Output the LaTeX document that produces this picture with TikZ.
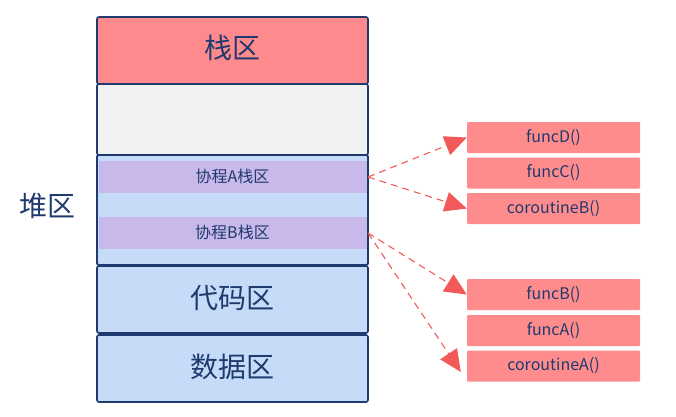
\documentclass[tikz,border=0pt]{standalone}
\usepackage{fontspec}
\setmainfont{Noto Sans CJK SC}
\usetikzlibrary{arrows.meta}
\definecolor{navy}{HTML}{1F3A6E}
\definecolor{stackred}{HTML}{FF8A8E}
\definecolor{graybg}{HTML}{F2F2F2}
\definecolor{heapblue}{HTML}{C5DBF7}
\definecolor{purp}{HTML}{C9B8EA}
\definecolor{funcred}{HTML}{FF8C8C}
\definecolor{arrred}{HTML}{F25A5A}
\tikzset{
  memblock/.style={draw=navy, line width=1.6pt, rounded corners=2pt},
  band/.style={fill=purp, draw=none},
  frame/.style={fill=funcred, draw=none, rounded corners=1pt},
  bigtxt/.style={text=navy, font=\fontsize{28}{31}\selectfont},
  smalltxt/.style={text=navy, font=\fontsize{16}{18}\selectfont},
  functxt/.style={text=navy, font=\fontsize{16}{18}\selectfont},
  callarrow/.style={draw=arrred, line width=1.1pt, dashed, dash pattern=on 7pt off 5pt,
     -{Triangle[length=22pt,width=20pt,fill=arrred]}}
}
\begin{document}
\begin{tikzpicture}[x=1pt,y=-1pt]
\useasboundingbox (0,0) rectangle (676,416);
% column
\path[memblock, fill=stackred] (97,17) rectangle (368,84);
\path[memblock, fill=graybg] (97,84) rectangle (368,155);
\path[memblock, fill=heapblue] (97,155) rectangle (368,265);
\fill[band] (98.5,161) rectangle (366.5,193);
\fill[band] (98.5,217) rectangle (366.5,249);
\path[memblock, draw=navy] (97,155) rectangle (368,265);
\path[memblock, fill=heapblue] (97,266) rectangle (368,333);
\path[memblock, fill=heapblue] (97,335) rectangle (368,402);
\node[bigtxt] (stack) at (232.5,48) {栈区};
\node[smalltxt] (coA) at (232.5,176) {协程A栈区};
\node[smalltxt] (coB) at (232.5,232) {协程B栈区};
\node[bigtxt] (code) at (232.5,298) {代码区};
\node[bigtxt] (data) at (232.5,367) {数据区};
\node[bigtxt] (heap) at (47,206) {堆区};
\coordinate (aout) at (368,177);
\coordinate (bout) at (368,233);
% frames
\node[frame, minimum width=173pt, minimum height=31pt, functxt] (fD) at (553.5,137.5) {funcD()};
\node[frame, minimum width=173pt, minimum height=31pt, functxt] (fC) at (553.5,173) {funcC()};
\node[frame, minimum width=173pt, minimum height=31pt, functxt] (cB) at (553.5,208.5) {coroutineB()};
\node[frame, minimum width=173pt, minimum height=31pt, functxt] (fB) at (553.5,294.5) {funcB()};
\node[frame, minimum width=173pt, minimum height=31pt, functxt] (fA) at (553.5,330.5) {funcA()};
\node[frame, minimum width=173pt, minimum height=31pt, functxt] (cA) at (553.5,366) {coroutineA()};
% arrows
\draw[callarrow] (aout) -- (fD.west);
\draw[callarrow] (aout) -- (cB.west);
\draw[callarrow] (bout) -- (fB.west);
\draw[callarrow] (bout) -- ([xshift=-6pt,yshift=-6pt]cA.west);
\end{tikzpicture}
\end{document}
